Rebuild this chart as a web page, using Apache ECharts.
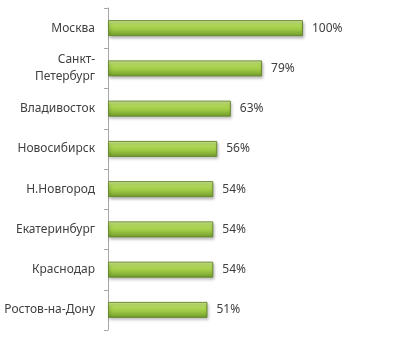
<!DOCTYPE html>
<html><head><meta charset="utf-8">
<script src="https://cdn.jsdelivr.net/npm/echarts@6/dist/echarts.min.js"></script>
<style>html,body{margin:0;padding:0;background:#fff}#c{width:400px;height:346px}</style>
</head><body><div id="c"></div>
<script>
const categories = ['Москва', 'Санкт-\nПетербург', 'Владивосток', 'Новосибирск', 'Н.Новгород', 'Екатеринбург', 'Краснодар', 'Ростов-на-Дону'];
const values = [100, 79, 63, 56, 54, 54, 54, 51];

const chart = echarts.init(document.getElementById('c'));
chart.setOption({
  animation: false,
  grid: { left: 108, top: 8, right: 58, bottom: 16, containLabel: false },
  xAxis: { type: 'value', min: 0, max: 120, show: false },
  yAxis: {
    type: 'category', data: categories, inverse: true,
    axisLine: { show: true, lineStyle: { color: '#a6a6a6', width: 1 } },
    axisTick: { show: true, length: 4, lineStyle: { color: '#a6a6a6' } },
    axisLabel: { margin: 13, color: '#404040', fontSize: 12, fontFamily: 'Noto Sans', lineHeight: 17, align: 'right' }
  },
  series: [{
    type: 'bar', data: values, barWidth: 16,
    itemStyle: {
      color: new echarts.graphic.LinearGradient(0, 0, 0, 1, [
        { offset: 0, color: '#d6ee9c' },
        { offset: 0.25, color: '#b5dc5e' },
        { offset: 0.6, color: '#9cc743' },
        { offset: 1, color: '#6e9a2a' }
      ]),
      borderColor: '#6a8a30', borderWidth: 1,
      shadowColor: 'rgba(0,0,0,0.3)', shadowBlur: 3, shadowOffsetY: 2, shadowOffsetX: 1
    },
    label: { show: true, position: 'right', distance: 9, formatter: p => p.value + '%', color: '#404040', fontSize: 12, fontFamily: 'Noto Sans' }
  }]
});
</script></body></html>
